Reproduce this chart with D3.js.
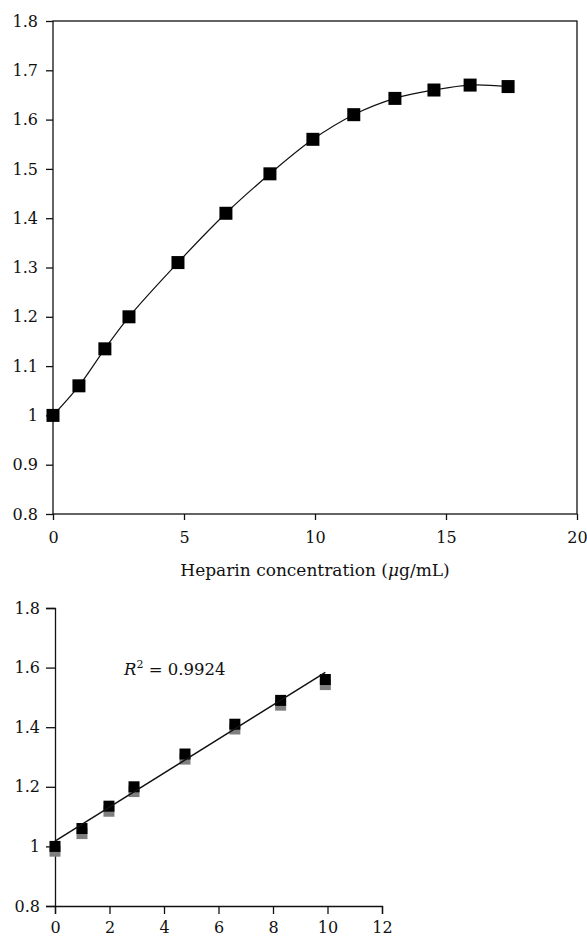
<!DOCTYPE html>
<html>
<head>
<meta charset="utf-8">
<script src="https://cdn.jsdelivr.net/npm/d3@7"></script>
<style>
  body { margin: 0; background: #fff; }
  svg text { font-family: "DejaVu Serif", "Liberation Serif", serif; fill: #111; }
  .axis path, .axis line { stroke: #111; stroke-width: 1.3; }
</style>
</head>
<body>
<svg width="587" height="938"></svg>
<script>
// heparin concentration (ug/mL) and signal ratio
const conc = [0, 0.99, 1.98, 2.9, 4.77, 6.6, 8.28, 9.92, 11.48, 13.05, 14.54, 15.92, 17.37];
const ratio = [1.0, 1.06, 1.135, 1.2, 1.31, 1.41, 1.49, 1.56, 1.61, 1.643, 1.66, 1.67, 1.667];

// linear range (first 8 points), black and grey series
const linConc = [0, 0.99, 1.98, 2.9, 4.77, 6.6, 8.28, 9.92];
const linBlack = [1.0, 1.06, 1.135, 1.2, 1.31, 1.41, 1.49, 1.56];
const linGrey = [0.984, 1.043, 1.118, 1.184, 1.293, 1.394, 1.474, 1.543];

const topYTicks = [0.8, 0.9, 1, 1.1, 1.2, 1.3, 1.4, 1.5, 1.6, 1.7, 1.8];
const topXTicks = [0, 5, 10, 15, 20];
const botYTicks = [0.8, 1, 1.2, 1.4, 1.6, 1.8];
const botXTicks = [0, 2, 4, 6, 8, 10, 12];
const xLabel = "Heparin concentration (";
const r2Text = "0.9924";

let svg = d3.select("svg");
let fmt = d => String(+d.toFixed(1));
let fs = "16px";

// ---------- top chart ----------
let xTop = d3.scaleLinear().domain([0, 20]).range([53, 577]);
let yTop = d3.scaleLinear().domain([0.8, 1.8]).range([514, 21]);

let gTop = svg.append("g");

gTop.append("rect")
    .attr("x", xTop(0)).attr("y", yTop(1.8))
    .attr("width", xTop(20) - xTop(0)).attr("height", yTop(0.8) - yTop(1.8))
    .attr("fill", "none").attr("stroke", "#111").attr("stroke-width", 1.3);

gTop.append("g")
    .attr("class", "axis")
    .attr("transform", "translate(0," + yTop(0.8) + ")")
    .call(d3.axisBottom(xTop).tickValues(topXTicks).tickSize(6).tickPadding(12).tickFormat(d3.format("d")))
    .call(g => g.select(".domain").remove())
    .selectAll("text").style("font-size", fs);

gTop.append("g")
    .attr("class", "axis")
    .attr("transform", "translate(" + xTop(0) + ",0)")
    .call(d3.axisLeft(yTop).tickValues(topYTicks).tickSize(7).tickPadding(8).tickFormat(fmt))
    .call(g => g.select(".domain").remove())
    .selectAll("text").style("font-size", fs);

let topPts = conc.map((c, i) => [c, ratio[i]]);

gTop.append("path")
    .datum(topPts)
    .attr("fill", "none")
    .attr("stroke", "#111")
    .attr("stroke-width", 1.2)
    .attr("d", d3.line().x(d => xTop(d[0])).y(d => yTop(d[1])).curve(d3.curveCatmullRom));

let s1 = 13;
gTop.selectAll("rect.pt")
    .data(topPts)
    .enter()
    .append("rect")
    .attr("class", "pt")
    .attr("x", d => xTop(d[0]) - s1 / 2)
    .attr("y", d => yTop(d[1]) - s1 / 2)
    .attr("width", s1).attr("height", s1)
    .attr("fill", "#000");

let lbl = svg.append("text")
    .attr("x", xTop(10)).attr("y", 576)
    .attr("text-anchor", "middle")
    .style("font-size", "17px");
lbl.append("tspan").text(xLabel);
lbl.append("tspan").style("font-style", "italic").text("\u03bc");
lbl.append("tspan").text("g/mL)");

// ---------- bottom chart ----------
let xBot = d3.scaleLinear().domain([0, 12]).range([55, 382]);
let yBot = d3.scaleLinear().domain([0.8, 1.8]).range([906, 608]);

let gBot = svg.append("g");

gBot.append("g")
    .attr("class", "axis")
    .attr("transform", "translate(0," + yBot(0.8) + ")")
    .call(d3.axisBottom(xBot).tickValues(botXTicks).tickSizeOuter(0).tickSize(8).tickPadding(8).tickFormat(d3.format("d")))
    .selectAll("text").style("font-size", fs);

gBot.append("g")
    .attr("class", "axis")
    .attr("transform", "translate(" + xBot(0) + ",0)")
    .call(d3.axisLeft(yBot).tickValues(botYTicks).tickSizeOuter(0).tickSize(9).tickPadding(6).tickFormat(fmt))
    .selectAll("text").style("font-size", fs);

let s2 = 11;
gBot.selectAll("rect.grey")
    .data(linConc.map((c, i) => [c, linGrey[i]]))
    .enter()
    .append("rect")
    .attr("class", "grey")
    .attr("x", d => xBot(d[0]) - s2 / 2)
    .attr("y", d => yBot(d[1]) - s2 / 2)
    .attr("width", s2).attr("height", s2)
    .attr("fill", "#7f7f7f");

let blackPts = linConc.map((c, i) => [c, linBlack[i]]);
gBot.selectAll("rect.black")
    .data(blackPts)
    .enter()
    .append("rect")
    .attr("class", "black")
    .attr("x", d => xBot(d[0]) - s2 / 2)
    .attr("y", d => yBot(d[1]) - s2 / 2)
    .attr("width", s2).attr("height", s2)
    .attr("fill", "#000");

// least squares trend line through black points
let mx = d3.mean(linConc), my = d3.mean(linBlack);
let slope = d3.sum(linConc, (c, i) => (c - mx) * (linBlack[i] - my)) / d3.sum(linConc, c => (c - mx) * (c - mx));
let icpt = my - slope * mx;
let x0 = d3.min(linConc), x1 = d3.max(linConc);

gBot.append("line")
    .attr("x1", xBot(x0)).attr("y1", yBot(icpt + slope * x0))
    .attr("x2", xBot(x1)).attr("y2", yBot(icpt + slope * x1))
    .attr("stroke", "#111").attr("stroke-width", 1.5);

let r2 = gBot.append("text")
    .attr("x", 124).attr("y", 675)
    .style("font-size", "16.5px");
r2.append("tspan").style("font-style", "italic").text("R");
r2.append("tspan").attr("dy", -7).style("font-size", "11px").text("2");
r2.append("tspan").attr("dy", 7).text(" = " + r2Text);
</script>
</body>
</html>
